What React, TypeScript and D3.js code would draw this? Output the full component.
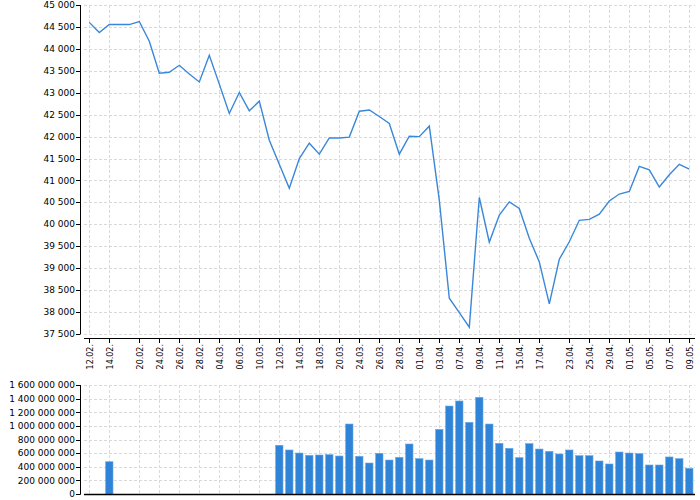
import React from "react";
import * as d3 from "d3";

const dates = [
  "12.02.", "13.02.", "14.02.", "18.02.", "19.02.", "20.02.", "21.02.", "24.02.", "25.02.", "26.02.",
  "27.02.", "28.02.", "03.03.", "04.03.", "05.03.", "06.03.", "07.03.", "10.03.", "11.03.", "12.03.",
  "13.03.", "14.03.", "17.03.", "18.03.", "19.03.", "20.03.", "21.03.", "24.03.", "25.03.", "26.03.",
  "27.03.", "28.03.", "31.03.", "01.04.", "02.04.", "03.04.", "04.04.", "07.04.", "08.04.", "09.04.",
  "10.04.", "11.04.", "14.04.", "15.04.", "16.04.", "17.04.", "18.04.", "22.04.", "23.04.", "24.04.",
  "25.04.", "28.04.", "29.04.", "30.04.", "01.05.", "02.05.", "05.05.", "06.05.", "07.05.", "08.05.",
  "09.05.",
];

const tickLabels = [
  "12.02.", "14.02.", "20.02.", "24.02.", "26.02.", "28.02.", "04.03.", "06.03.", "10.03.", "12.03.",
  "14.03.", "18.03.", "20.03.", "24.03.", "26.03.", "28.03.", "01.04.", "03.04.", "07.04.", "09.04.",
  "11.04.", "15.04.", "17.04.", "23.04.", "25.04.", "29.04.", "01.05.", "05.05.", "07.05.", "09.05.",
];

const prices = [
  44610, 44380, 44560, 44560, 44560, 44630, 44180, 43450, 43470, 43630,
  43430, 43250, 43860, 43200, 42530, 43010, 42590, 42810, 41920, 41370,
  40820, 41500, 41850, 41600, 41970, 41970, 41990, 42580, 42610, 42460,
  42300, 41600, 42010, 42000, 42240, 40550, 38310, 37980, 37650, 40610,
  39590, 40210, 40510, 40360, 39680, 39140, 38180, 39200, 39600, 40090,
  40110, 40230, 40530, 40690, 40750, 41320, 41240, 40850, 41130, 41370,
  41260,
];

// null = no volume reported
const volumes: (number | null)[] = [
  null, null, 475e6, null, null, null, null, null, null, null,
  null, null, null, null, null, null, null, null, null, 717e6,
  648e6, 603e6, 569e6, 574e6, 579e6, 559e6, 1030e6, 555e6, 456e6, 599e6,
  500e6, 540e6, 736e6, 520e6, 500e6, 952e6, 1295e6, 1369e6, 1055e6, 1423e6,
  1030e6, 746e6, 672e6, 535e6, 741e6, 662e6, 628e6, 589e6, 648e6, 564e6,
  564e6, 486e6, 442e6, 618e6, 603e6, 594e6, 427e6, 427e6, 545e6, 520e6,
  378e6,
];

const priceTicks = [37500, 38000, 38500, 39000, 39500, 40000, 40500, 41000, 41500, 42000, 42500, 43000, 43500, 44000, 44500, 45000];
const volumeTicks = [0, 200e6, 400e6, 600e6, 800e6, 1000e6, 1200e6, 1400e6, 1600e6];

const FONT = "DejaVu Sans, sans-serif";
const LINE = "#3a87d9";
const BAR = "#2f84d8";
const GRID = "#d9d9d9";

const fmt = (v: number) => d3.format(",")(v).replace(/,/g, " ");

export default function App() {
  const x = d3.scalePoint<string>().domain(dates).range([89.3, 689.3]);
  const yP = d3.scaleLinear().domain([37500, 45000]).range([333.7, 5.3]);
  const yV = d3.scaleLinear().domain([0, 1.6e9]).range([494, 385.3]);

  const plotLeft = 84;
  const plotRight = 695;

  const line = d3
    .line<number>()
    .x((_, i) => x(dates[i]) as number)
    .y((d) => yP(d));

  const barW = 7.4;

  return (
    <div style={{ position: "absolute", left: 0, top: 0 }}>
      <svg width={700} height={500} style={{ display: "block" }} fontFamily={FONT}>
        <rect width={700} height={500} fill="#fff" />
        {/* ---------- top chart ---------- */}
        <g>
          {priceTicks.map((t) => (
            <line key={"hg" + t} x1={plotLeft} x2={plotRight} y1={Math.round(yP(t)) + 0.5} y2={Math.round(yP(t)) + 0.5}
              stroke={GRID} strokeDasharray="3,2" />
          ))}
          {tickLabels.map((d) => (
            <line key={"vg" + d} x1={Math.round(x(d) as number) + 0.5} x2={Math.round(x(d) as number) + 0.5} y1={5} y2={334}
              stroke={GRID} strokeDasharray="3,2" />
          ))}
          {/* y axis */}
          <line x1={80.5} x2={80.5} y1={5} y2={334} stroke="#000" />
          {priceTicks.map((t) => (
            <g key={"yt" + t}>
              <line x1={76} x2={80.5} y1={Math.round(yP(t)) + 0.5} y2={Math.round(yP(t)) + 0.5} stroke="#000" />
              <text x={75} y={yP(t)} dy="0.35em" textAnchor="end" fontSize={9} fill="#000">{fmt(t)}</text>
            </g>
          ))}
          {/* x axis */}
          <line x1={plotLeft} x2={plotRight} y1={338.5} y2={338.5} stroke="#000" />
          {tickLabels.map((d) => {
            const px = Math.round(x(d) as number) + 0.5;
            return (
              <g key={"xt" + d}>
                <line x1={px} x2={px} y1={338.5} y2={343} stroke="#000" />
                <text transform={`translate(${px + 3},344) rotate(-90)`} textAnchor="end" fontSize={8} fill="#000">{d}</text>
              </g>
            );
          })}
          <path d={line(prices) || ""} fill="none" stroke={LINE} strokeWidth={1.4} strokeLinejoin="miter" />
        </g>

        {/* ---------- bottom chart ---------- */}
        <g>
          {volumeTicks.map((t) => (
            <line key={"vhg" + t} x1={plotLeft} x2={plotRight} y1={Math.round(yV(t)) + 0.5} y2={Math.round(yV(t)) + 0.5}
              stroke={GRID} strokeDasharray="3,2" />
          ))}
          {tickLabels.map((d) => (
            <line key={"vvg" + d} x1={Math.round(x(d) as number) + 0.5} x2={Math.round(x(d) as number) + 0.5} y1={385} y2={494}
              stroke={GRID} strokeDasharray="3,2" />
          ))}
          {volumes.map((v, i) =>
            v == null ? null : (
              <rect key={"b" + i} x={(x(dates[i]) as number) - barW / 2} y={yV(v)} width={barW} height={yV(0) - yV(v)}
                fill={BAR} stroke="#6aa8e6" strokeWidth={0.6} />
            )
          )}
          <line x1={80.5} x2={80.5} y1={385} y2={494.5} stroke="#000" />
          {volumeTicks.map((t) => (
            <g key={"vyt" + t}>
              <line x1={76} x2={80.5} y1={Math.round(yV(t)) + 0.5} y2={Math.round(yV(t)) + 0.5} stroke="#000" />
              <text x={75} y={yV(t)} dy="0.35em" textAnchor="end" fontSize={9} fill="#000">{fmt(t)}</text>
            </g>
          ))}
          <line x1={plotLeft} x2={plotRight} y1={494.5} y2={494.5} stroke="#000" strokeWidth={1.5} />
        </g>
      </svg>
    </div>
  );
}
